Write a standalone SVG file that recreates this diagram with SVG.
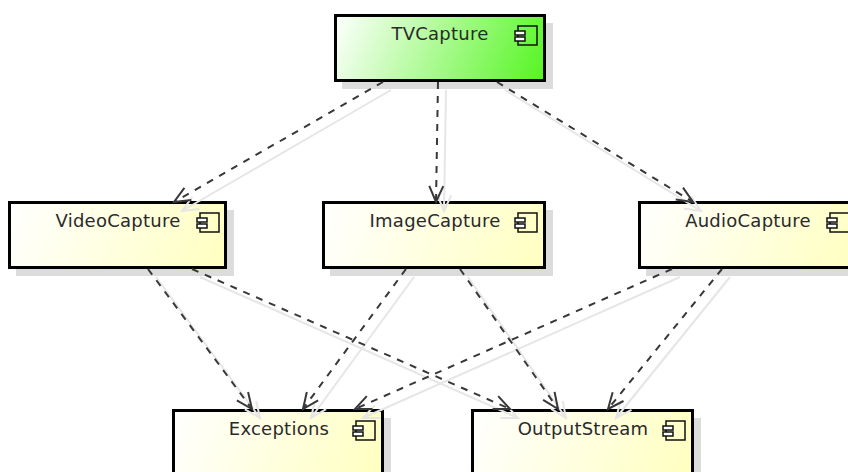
<svg xmlns="http://www.w3.org/2000/svg" width="848" height="472" viewBox="0 0 848 472">
<defs>
<linearGradient id="gt" gradientUnits="userSpaceOnUse" x1="335" y1="15" x2="536" y2="100"><stop offset="0" stop-color="#ffffff"/><stop offset="1" stop-color="#55f522"/></linearGradient>
<linearGradient id="gv" gradientUnits="userSpaceOnUse" x1="9" y1="202" x2="217" y2="287"><stop offset="0" stop-color="#ffffff"/><stop offset="1" stop-color="#ffffc0"/></linearGradient>
<linearGradient id="gi" gradientUnits="userSpaceOnUse" x1="323" y1="202" x2="536" y2="287"><stop offset="0" stop-color="#ffffff"/><stop offset="1" stop-color="#ffffc0"/></linearGradient>
<linearGradient id="ga" gradientUnits="userSpaceOnUse" x1="639" y1="202" x2="847" y2="287"><stop offset="0" stop-color="#ffffff"/><stop offset="1" stop-color="#ffffc0"/></linearGradient>
<linearGradient id="ge" gradientUnits="userSpaceOnUse" x1="173" y1="410" x2="374" y2="495"><stop offset="0" stop-color="#ffffff"/><stop offset="1" stop-color="#ffffc0"/></linearGradient>
<linearGradient id="go" gradientUnits="userSpaceOnUse" x1="472" y1="410" x2="684" y2="495"><stop offset="0" stop-color="#ffffff"/><stop offset="1" stop-color="#ffffc0"/></linearGradient>
<marker id="a" markerUnits="userSpaceOnUse" markerWidth="20" markerHeight="20" refX="17" refY="10" orient="auto"><path d="M1,3 L17,10 L1,17" fill="none" stroke="#383838" stroke-width="2"/></marker>
<marker id="s" markerUnits="userSpaceOnUse" markerWidth="20" markerHeight="20" refX="17" refY="10" orient="auto"><path d="M1,3 L17,10 L1,17" fill="none" stroke="#e6e6e6" stroke-width="2"/></marker>
<g id="icon"><rect x="3" y="0" width="19" height="19" fill="none" stroke="#111" stroke-width="1.5"/><rect x="0" y="5" width="10" height="4" fill="#fff" stroke="#111" stroke-width="1.5"/><rect x="0" y="11" width="10" height="4" fill="#fff" stroke="#111" stroke-width="1.5"/></g>
</defs>
<style>
.sh{fill:#dcdcdc}
.b{stroke:#000;stroke-width:3}
text{font-family:"DejaVu Sans",sans-serif;font-size:18px;letter-spacing:.25px;fill:#2a2a2a;text-anchor:middle}
.cs line{stroke:#e6e6e6;stroke-width:2;marker-end:url(#s)}
.c line{stroke:#383838;stroke-width:2;stroke-dasharray:7 7;marker-end:url(#a)}
</style>
<rect width="848" height="472" fill="#fff"/>
<g id="TVCapture"><rect class="sh" x="342" y="23" width="211" height="66"/><rect class="b" x="335.500" y="15.500" width="209" height="65" fill="url(#gt)"/><text x="440" y="40">TVCapture</text><use href="#icon" x="515" y="26"/></g>
<g id="VideoCapture"><rect class="sh" x="16" y="210" width="218" height="66"/><rect class="b" x="9.500" y="202.500" width="216" height="65" fill="url(#gv)"/><text x="118" y="227">VideoCapture</text><use href="#icon" x="197" y="213"/></g>
<g id="ImageCapture"><rect class="sh" x="330" y="210" width="223" height="66"/><rect class="b" x="323.500" y="202.500" width="221" height="65" fill="url(#gi)"/><text x="435" y="227">ImageCapture</text><use href="#icon" x="515" y="213"/></g>
<g id="AudioCapture"><rect class="sh" x="646" y="210" width="218" height="66"/><rect class="b" x="639.500" y="202.500" width="216" height="65" fill="url(#ga)"/><text x="748" y="227">AudioCapture</text><use href="#icon" x="827" y="213"/></g>
<g id="Exceptions"><rect class="sh" x="180" y="418" width="211" height="66"/><rect class="b" x="173.500" y="410.500" width="209" height="65" fill="url(#ge)"/><text x="279" y="435">Exceptions</text><use href="#icon" x="353" y="421"/></g>
<g id="OutputStream"><rect class="sh" x="479" y="418" width="222" height="66"/><rect class="b" x="472.500" y="410.500" width="220" height="65" fill="url(#go)"/><text x="583" y="435">OutputStream</text><use href="#icon" x="663" y="421"/></g>
<g id="connectors">
<g class="cs">
<line x1="391" y1="90" x2="182" y2="211"/><line x1="446" y1="90" x2="444" y2="211"/><line x1="505" y1="90" x2="701" y2="211"/>
<line x1="156" y1="277" x2="260" y2="418"/><line x1="200" y1="277" x2="518" y2="418"/><line x1="414" y1="277" x2="311" y2="418"/>
<line x1="468" y1="277" x2="566" y2="418"/><line x1="680" y1="277" x2="363" y2="418"/><line x1="730" y1="277" x2="616" y2="418"/>
</g>
<g class="c">
<line x1="383" y1="82" x2="174" y2="202"/><line x1="438" y1="82" x2="436" y2="202"/><line x1="497" y1="82" x2="693" y2="202"/>
<line x1="148" y1="269" x2="252" y2="409"/><line x1="192" y1="269" x2="510" y2="409"/><line x1="406" y1="269" x2="303" y2="409"/>
<line x1="460" y1="269" x2="558" y2="409"/><line x1="672" y1="269" x2="355" y2="409"/><line x1="722" y1="269" x2="608" y2="409"/>
</g>
</g>
</svg>
